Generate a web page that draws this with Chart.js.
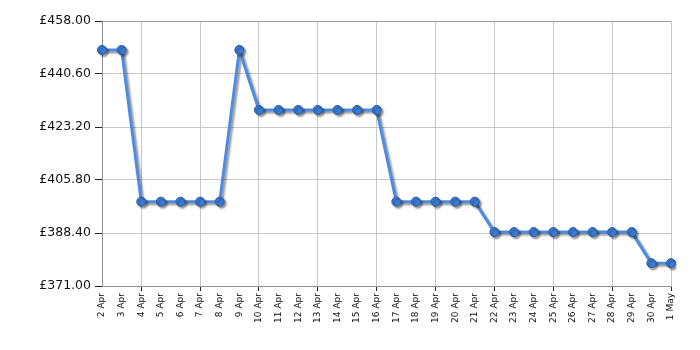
<!DOCTYPE html>
<html lang="en">
<head>
  <meta charset="UTF-8" />
  <title>Price history</title>
  <script src="https://cdn.jsdelivr.net/npm/chart.js"></script>
  <style>
    body { margin: 0; background: #fff; }
    canvas { display: block; }
  </style>
</head>
<body>
  <canvas id="priceChart" width="700" height="350"></canvas>
  <script>
  const days = [
    "2 Apr", "3 Apr", "4 Apr", "5 Apr", "6 Apr", "7 Apr", "8 Apr", "9 Apr", "10 Apr", "11 Apr",
    "12 Apr", "13 Apr", "14 Apr", "15 Apr", "16 Apr", "17 Apr", "18 Apr", "19 Apr", "20 Apr", "21 Apr",
    "22 Apr", "23 Apr", "24 Apr", "25 Apr", "26 Apr", "27 Apr", "28 Apr", "29 Apr", "30 Apr", "1 May"
  ];
  const prices = [
    448.5, 448.5, 398.7, 398.7, 398.7, 398.7, 398.7, 448.5, 428.8, 428.8,
    428.8, 428.8, 428.8, 428.8, 428.8, 398.7, 398.7, 398.7, 398.7, 398.7,
    388.7, 388.7, 388.7, 388.7, 388.7, 388.7, 388.7, 388.7, 378.5, 378.5
  ];
  const yTicks = [371.0, 388.4, 405.8, 423.2, 440.6, 458.0];

  // grey drop shadow under the line
  const shadowPlugin = {
    id: "shadow",
    beforeDatasetDraw(chart) {
      const c = chart.ctx;
      c.save();
      c.shadowColor = "rgba(0,0,0,0.4)";
      c.shadowOffsetX = 2;
      c.shadowOffsetY = 2;
      c.shadowBlur = 2;
    },
    afterDatasetDraw(chart) {
      chart.ctx.restore();
    }
  };

  const showGrid = i => i % 3 === 2;

  new Chart(document.getElementById("priceChart"), {
    type: "line",
    data: {
      labels: days,
      datasets: [{
        data: prices,
        borderColor: "#4d8ce0",
        borderWidth: 3,
        pointRadius: 4.5,
        pointBackgroundColor: "#3b7bd4",
        pointBorderColor: "#2a5a9e",
        pointBorderWidth: 1,
        tension: 0
      }]
    },
    options: {
      responsive: false,
      animation: false,
      layout: { padding: { top: 21, right: 29, left: 0, bottom: 0 } },
      plugins: { legend: { display: false }, tooltip: { enabled: false } },
      scales: {
        x: {
          offset: false,
          afterFit: s => { s.height = 64; },
          border: { color: "#909090", width: 1 },
          grid: {
            color: ctx => showGrid(ctx.index) ? "#c8c8c8" : "rgba(0,0,0,0)",
            tickColor: ctx => showGrid(ctx.index) ? "#222" : "rgba(0,0,0,0)",
            tickLength: 5
          },
          ticks: {
            autoSkip: false,
            minRotation: 90,
            maxRotation: 90,
            padding: 2,
            color: "#111",
            font: { family: "DejaVu Sans", size: 9 }
          }
        },
        y: {
          min: 371,
          max: 458,
          afterFit: s => { s.width = 102; },
          afterBuildTicks: s => { s.ticks = yTicks.map(v => ({ value: v })); },
          border: { color: "#909090", width: 1 },
          grid: {
            color: ctx => ctx.index === yTicks.length - 1 ? "#a0a0a0" : "#c8c8c8",
            tickColor: "#222",
            tickLength: 7
          },
          ticks: {
            padding: 4,
            color: "#111",
            font: { family: "DejaVu Sans", size: 12.5 },
            callback: v => "£" + Number(v).toFixed(2)
          }
        }
      }
    },
    plugins: [shadowPlugin]
  });
  </script>
</body>
</html>
